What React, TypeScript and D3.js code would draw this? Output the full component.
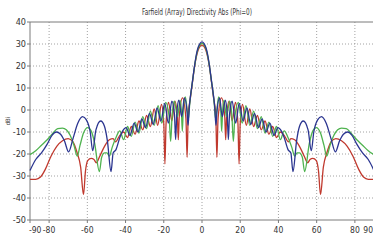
import React from 'react'
import * as d3 from 'd3'

const W = 373
const H = 242
const margin = {top: 22, right: -1, bottom: 22, left: 30}

const title = 'Farfield (Array) Directivity Abs (Phi=0)'
const yLabel = 'dBi'

const xTicks = [-90, -80, -60, -40, -20, 0, 20, 40, 60, 80, 90]
const xGrid = [-80, -60, -40, -20, 0, 20, 40, 60, 80]
const yTicks = [40, 30, 20, 10, 0, -10, -20, -30, -40, -50]

// [theta deg, dBi]
const blue: [number, number][] = [
  [-90,-27.5],[-87,-22.5],[-84,-19.5],[-81,-15.5],[-78.5,-11.5],[-76.3,-10],[-74,-11],[-72,-14],[-69.8,-19],
  [-67.5,-13],[-65,-6],[-62.5,-3],[-60.5,-4.5],[-58.5,-10],[-57.2,-18.5],[-55.5,-9],[-53,-5],[-51,-7.5],
  [-49.5,-14],[-47.6,-28],[-46.5,-19.5],[-45,-18],[-43,-12.5],[-41.5,-9.5],[-39.7,-8],[-37.7,-11.5],[-35.5,-6],
  [-33.5,-10],[-31.5,-4],[-29.5,-8],[-27.5,-1.5],[-25.5,-6.5],[-23.5,1],[-21.5,-5],[-19.5,3],[-17.6,-6],
  [-15.8,4],[-14.4,-2],[-13.8,-13.5],[-13.2,-2],[-12.2,4.5],[-10.6,-3],[-9.2,5.5],[-7.8,-1],[-7.3,-7],
  [-6.6,2],[-6,6.5],[-5,13],[-4,19.5],[-3,25],[-2,28.5],[-1,30.3],[0,31],
  [1,30.3],[2,28.5],[3,25],[4,19.5],[5,13],[6,6.5],[6.6,2],[7.3,-7],[7.8,-1],[9.2,5.5],[10.6,-3],[12.2,4.5],
  [13.2,-2],[13.8,-13.5],[14.4,-2],[15.8,4],[17.6,-6],[19.5,3],[21.5,-5],[23.5,1],[25.5,-6.5],[27.5,-1.5],
  [29.5,-8],[31.5,-4],[33.5,-10],[35.5,-6],[37.7,-11.5],[39.7,-8],[41.5,-9.5],[43,-12.5],[45,-18],[46.5,-19.5],
  [47.6,-28],[49.5,-14],[51,-7.5],[53,-5],[55.5,-9],[57.2,-18.5],[58.5,-10],[60.5,-4.5],[62.5,-3],[65,-6],
  [67.5,-13],[69.8,-19],[72,-14],[74,-11],[76.3,-10],[78.5,-11.5],[81,-15.5],[84,-19.5],[87,-22.5],[90,-27.5],
]

const red: [number, number][] = [
  [-90,-31.5],[-87,-31.5],[-84.5,-30.5],[-82,-27],[-79,-21],[-76,-16.5],[-73,-14],[-70,-13],[-67.5,-14.5],
  [-65.5,-19],[-63.5,-26],[-62,-38.5],[-61,-28],[-59.8,-23],[-58,-22],[-56.5,-22.5],[-55.3,-24],[-53.5,-21],
  [-51,-16.5],[-48.5,-13.5],[-46.5,-13],[-45.3,-14.5],[-43,-11.5],[-41,-10],[-39,-12.5],[-37,-7.5],[-35,-11],
  [-33,-5],[-31,-9],[-29,-2.5],[-27,-7.5],[-25,0.5],[-23.2,-7],[-21.2,2.5],[-20,-6],[-19.4,-24.5],[-18.8,-6],
  [-17.5,3.5],[-15.8,-5],[-14.2,4],[-12.9,-3],[-12.4,-13.5],[-11.9,-3],[-10.2,5.5],[-8.4,-4],[-7.8,-21.5],
  [-7.2,-2],[-6.5,3],[-6,6],[-5,12.5],[-4,19],[-3,24],[-2,27.3],[-1,29],[0,29.5],
  [1,29],[2,27.3],[3,24],[4,19],[5,12.5],[6,6],[6.5,3],[7.2,-2],[7.8,-21.5],[8.4,-4],[10.2,5.5],[11.9,-3],
  [12.4,-13.5],[12.9,-3],[14.2,4],[15.8,-5],[17.5,3.5],[18.8,-6],[19.4,-24.5],[20,-6],[21.2,2.5],[23.2,-7],
  [25,0.5],[27,-7.5],[29,-2.5],[31,-9],[33,-5],[35,-11],[37,-7.5],[39,-12.5],[41,-10],[43,-11.5],[45.3,-14.5],
  [46.5,-13],[48.5,-13.5],[51,-16.5],[53.5,-21],[55.3,-24],[56.5,-22.5],[58,-22],[59.8,-23],[61,-28],[62,-38.5],
  [63.5,-26],[65.5,-19],[67.5,-14.5],[70,-13],[73,-14],[76,-16.5],[79,-21],[82,-27],[84.5,-30.5],[87,-31.5],[90,-31.5],
]

const green: [number, number][] = [
  [-90,-20.3],[-87,-18.5],[-84,-16],[-81,-13.5],[-78,-10.5],[-75.5,-8.5],[-73,-8.2],[-71,-9],[-69,-11.5],
  [-67,-16],[-65.3,-21],[-63.8,-16],[-62,-10.5],[-59.8,-8],[-58,-9.5],[-56.2,-15],[-53.7,-28],[-52.5,-21.5],
  [-51,-19.5],[-49.7,-19.5],[-48.5,-21],[-47,-17],[-45,-12.5],[-43,-9.5],[-41,-13.5],[-39,-7.5],[-37,-12],
  [-35,-5.5],[-33,-10.5],[-31,-3],[-29,-8.5],[-27,-0.5],[-25,-7],[-23,2],[-21,-6],[-19,3.5],[-17.2,-3],
  [-16.4,-14.3],[-15.6,-2],[-14.5,4],[-12.8,-3],[-11.5,4.5],[-10.8,0],[-10.3,-9.7],[-9.8,0],[-8.7,6],[-7.1,-4],
  [-6.4,3],[-6,6.3],[-5,12.8],[-4,19.2],[-3,24.5],[-2,28],[-1,29.7],[0,30.3],
  [1,29.7],[2,28],[3,24.5],[4,19.2],[5,12.8],[6,6.3],[6.4,3],[7.1,-4],[8.7,6],[9.8,0],[10.3,-9.7],[10.8,0],
  [11.5,4.5],[12.8,-3],[14.5,4],[15.6,-2],[16.4,-14.3],[17.2,-3],[19,3.5],[21,-6],[23,2],[25,-7],[27,-0.5],
  [29,-8.5],[31,-3],[33,-10.5],[35,-5.5],[37,-12],[39,-7.5],[41,-13.5],[43,-9.5],[45,-12.5],[47,-17],[48.5,-21],
  [49.7,-19.5],[51,-19.5],[52.5,-21.5],[53.7,-28],[56.2,-15],[58,-9.5],[59.8,-8],[62,-10.5],[63.8,-16],[65.3,-21],
  [67,-16],[69,-11.5],[71,-9],[73,-8.2],[75.5,-8.5],[78,-10.5],[81,-13.5],[84,-16],[87,-18.5],[90,-20.3],
]

const series = [
  {name: 'red', color: '#c0392e', data: red},
  {name: 'green', color: '#4fb34f', data: green},
  {name: 'blue', color: '#2b3590', data: blue},
]

const font = "'Liberation Sans Narrow', 'DejaVu Sans Condensed', 'Arial Narrow', sans-serif"

export default function App() {
  const x = d3.scaleLinear().domain([-90, 90]).range([margin.left, W - margin.right])
  const y = d3.scaleLinear().domain([-50, 40]).range([H - margin.bottom, margin.top])

  const line = d3.line<[number, number]>()
    .x(d => x(d[0]))
    .y(d => y(d[1]))
    .curve(d3.curveMonotoneX)

  const gridColor = '#8a8a8a'
  const axisColor = '#7a7a7a'

  // end labels are nudged inward so they stay on the page
  const xLabelPos = (t: number) => t === -90 ? {x: x(t) - 1, anchor: 'start'}
    : t === 90 ? {x: W, anchor: 'end'}
    : {x: x(t), anchor: 'middle'}

  return (
    <svg width={W} height={H} style={{position: 'absolute', left: 0, top: 0, background: '#fff'}}>
      <text x={197} y={15} fontSize={8} fontFamily={font} textAnchor="middle" fill="#333"
        textLength={110} lengthAdjust="spacingAndGlyphs">{title}</text>

      {/* grid */}
      {xGrid.map(t => (
        <line key={'gx' + t} x1={x(t)} x2={x(t)} y1={y(40)} y2={y(-50)}
          stroke={gridColor} strokeWidth={0.8} strokeDasharray="1,2" />
      ))}
      {yTicks.filter(t => t !== 40 && t !== -50).map(t => (
        <line key={'gy' + t} x1={x(-90)} x2={x(90)} y1={y(t)} y2={y(t)}
          stroke={gridColor} strokeWidth={0.8} strokeDasharray="1,2" />
      ))}

      {/* frame */}
      <line x1={x(-90)} x2={x(90)} y1={y(40)} y2={y(40)} stroke={axisColor} strokeWidth={1} />
      <line x1={x(-90)} x2={x(90)} y1={y(-50)} y2={y(-50)} stroke={axisColor} strokeWidth={1} />
      <line x1={x(-90)} x2={x(-90)} y1={y(40)} y2={y(-50)} stroke={axisColor} strokeWidth={1} />

      {/* y axis */}
      {yTicks.map(t => (
        <g key={'yt' + t}>
          <line x1={x(-90) - 3} x2={x(-90)} y1={y(t)} y2={y(t)} stroke={axisColor} />
          <text x={x(-90) - 4} y={y(t) + 3} fontSize={9} fontFamily={font} textAnchor="end" fill="#333">{t}</text>
        </g>
      ))}
      <text transform={`translate(10,${y(-5)}) rotate(-90)`} fontSize={6} fontFamily={font}
        textAnchor="middle" fill="#333">{yLabel}</text>

      {/* x axis */}
      {xTicks.map(t => {
        const p = xLabelPos(t)
        return (
          <g key={'xt' + t}>
            <line x1={x(t)} x2={x(t)} y1={y(-50)} y2={y(-50) + 3} stroke={axisColor} />
            <text x={p.x} y={y(-50) + 13} fontSize={8.5} fontFamily={font}
              textAnchor={p.anchor} fill="#333">{t}</text>
          </g>
        )
      })}

      {/* curves */}
      {series.map(s => (
        <path key={s.name} d={line(s.data) || ''} fill="none" stroke={s.color} strokeWidth={1.3}
          strokeLinejoin="round" />
      ))}
    </svg>
  )
}
